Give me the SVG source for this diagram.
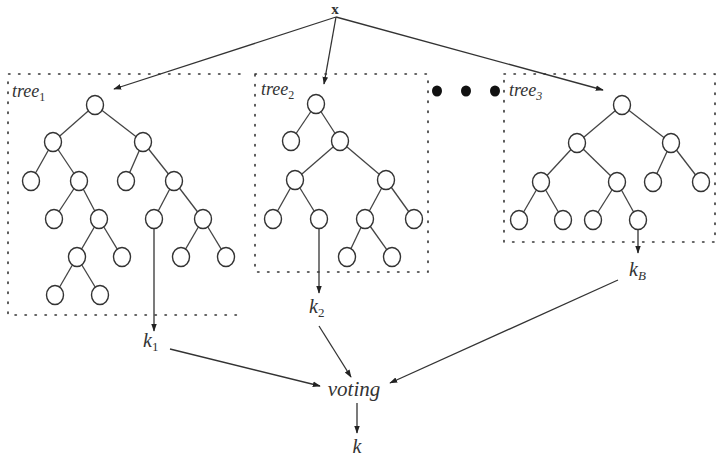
<svg xmlns="http://www.w3.org/2000/svg" width="721" height="459" viewBox="0 0 721 459">
  <style>
    .frame { fill: none; stroke: #333; stroke-width: 1.6; stroke-dasharray: 1.4 8.6; stroke-linecap: round; }
    .edge { stroke: #444; stroke-width: 1.3; fill: none; }
    .node ellipse { fill: #fff; stroke: #333; stroke-width: 1.4; rx: 8.5px; ry: 9.5px; }
    .conn { stroke: #333; stroke-width: 1.3; fill: none; marker-end: url(#arrow); }
    .lbl { font-family: "Liberation Serif", "DejaVu Serif", serif; font-style: italic; fill: #333; }
    .dot { fill: #111; }
  </style>
  <defs>
    <marker id="arrow" viewBox="0 0 10 10" refX="9" refY="5" markerWidth="8" markerHeight="8" markerUnits="userSpaceOnUse" orient="auto">
      <path d="M0,1.5 L10,5 L0,8.5 Z" fill="#222"/>
    </marker>
  </defs>
  <rect width="721" height="459" fill="#fff"/>

  <!-- input sample -->
  <g id="input">
    <text x="335" y="14" text-anchor="middle" font-family="Liberation Serif, serif" font-weight="bold" font-size="15" fill="#333">x</text>
  </g>

  <!-- tree 1 -->
  <g id="tree1">
    <path class="frame" d="M240,74 H8 V315 H240"/>
    <text class="lbl" x="12" y="97" font-size="18">tree<tspan font-size="12" dy="4" font-style="normal">1</tspan></text>
    <g class="edge">
      <line x1="95" y1="105" x2="53" y2="142"/><line x1="95" y1="105" x2="143" y2="142"/>
      <line x1="53" y1="142" x2="31" y2="181"/><line x1="53" y1="142" x2="79" y2="181"/>
      <line x1="143" y1="142" x2="126" y2="181"/><line x1="143" y1="142" x2="174" y2="181"/>
      <line x1="79" y1="181" x2="54" y2="219"/><line x1="79" y1="181" x2="99" y2="219"/>
      <line x1="174" y1="181" x2="154" y2="219"/><line x1="174" y1="181" x2="203" y2="219"/>
      <line x1="99" y1="219" x2="77" y2="257"/><line x1="99" y1="219" x2="122" y2="257"/>
      <line x1="203" y1="219" x2="181" y2="257"/><line x1="203" y1="219" x2="226" y2="257"/>
      <line x1="77" y1="257" x2="55" y2="295"/><line x1="77" y1="257" x2="100" y2="295"/>
    </g>
    <g class="node">
      <ellipse cx="95" cy="105"/>
      <ellipse cx="53" cy="142"/><ellipse cx="143" cy="142"/>
      <ellipse cx="31" cy="181"/><ellipse cx="79" cy="181"/>
      <ellipse cx="126" cy="181"/><ellipse cx="174" cy="181"/>
      <ellipse cx="54" cy="219"/><ellipse cx="99" cy="219"/>
      <ellipse cx="154" cy="219"/><ellipse cx="203" cy="219"/>
      <ellipse cx="77" cy="257"/><ellipse cx="122" cy="257"/>
      <ellipse cx="181" cy="257"/><ellipse cx="226" cy="257"/>
      <ellipse cx="55" cy="295"/><ellipse cx="100" cy="295"/>
    </g>
  </g>

  <!-- tree 2 -->
  <g id="tree2">
    <rect class="frame" x="255" y="74" width="173" height="198"/>
    <text class="lbl" x="261" y="95" font-size="18">tree<tspan font-size="12" dy="4" font-style="normal">2</tspan></text>
    <g class="edge">
      <line x1="316" y1="104" x2="291" y2="141"/><line x1="316" y1="104" x2="340" y2="141"/>
      <line x1="340" y1="141" x2="295" y2="180"/><line x1="340" y1="141" x2="386" y2="180"/>
      <line x1="295" y1="180" x2="273" y2="219"/><line x1="295" y1="180" x2="319" y2="219"/>
      <line x1="386" y1="180" x2="365" y2="219"/><line x1="386" y1="180" x2="414" y2="219"/>
      <line x1="365" y1="219" x2="347" y2="257"/><line x1="365" y1="219" x2="392" y2="257"/>
    </g>
    <g class="node">
      <ellipse cx="316" cy="104"/>
      <ellipse cx="291" cy="141"/><ellipse cx="340" cy="141"/>
      <ellipse cx="295" cy="180"/><ellipse cx="386" cy="180"/>
      <ellipse cx="273" cy="219"/><ellipse cx="319" cy="219"/>
      <ellipse cx="365" cy="219"/><ellipse cx="414" cy="219"/>
      <ellipse cx="347" cy="257"/><ellipse cx="392" cy="257"/>
    </g>
  </g>

  <!-- ellipsis between trees -->
  <g id="ellipsis">
    <ellipse class="dot" cx="437" cy="91" rx="5" ry="5.5"/>
    <ellipse class="dot" cx="466" cy="91" rx="5" ry="5.5"/>
    <ellipse class="dot" cx="495" cy="91" rx="5" ry="5.5"/>
  </g>

  <!-- tree B -->
  <g id="tree3">
    <rect class="frame" x="504" y="74" width="211" height="168"/>
    <text class="lbl" x="509" y="96" font-size="18">tree<tspan font-size="12" dy="4">3</tspan></text>
    <g class="edge">
      <line x1="622" y1="105" x2="577" y2="143"/><line x1="622" y1="105" x2="671" y2="143"/>
      <line x1="577" y1="143" x2="541" y2="182"/><line x1="577" y1="143" x2="617" y2="182"/>
      <line x1="671" y1="143" x2="653" y2="182"/><line x1="671" y1="143" x2="701" y2="182"/>
      <line x1="541" y1="182" x2="519" y2="220"/><line x1="541" y1="182" x2="563" y2="220"/>
      <line x1="617" y1="182" x2="593" y2="220"/><line x1="617" y1="182" x2="638" y2="220"/>
    </g>
    <g class="node">
      <ellipse cx="622" cy="105"/>
      <ellipse cx="577" cy="143"/><ellipse cx="671" cy="143"/>
      <ellipse cx="541" cy="182"/><ellipse cx="617" cy="182"/>
      <ellipse cx="653" cy="182"/><ellipse cx="701" cy="182"/>
      <ellipse cx="519" cy="220"/><ellipse cx="563" cy="220"/>
      <ellipse cx="593" cy="220"/><ellipse cx="638" cy="220"/>
    </g>
  </g>

  <!-- per-tree predictions -->
  <g id="k1"><text class="lbl" x="143" y="347" font-size="20">k<tspan font-size="13" dy="4" font-style="normal">1</tspan></text></g>
  <g id="k2"><text class="lbl" x="309" y="313" font-size="20">k<tspan font-size="13" dy="4" font-style="normal">2</tspan></text></g>
  <g id="kB"><text class="lbl" x="629" y="276" font-size="20">k<tspan font-size="13" dy="4">B</tspan></text></g>

  <!-- aggregation -->
  <g id="voting"><text class="lbl" x="354" y="396" font-size="21" text-anchor="middle">voting</text></g>
  <g id="k"><text class="lbl" x="357" y="453" font-size="20" text-anchor="middle">k</text></g>

  <!-- connectors -->
  <g id="connectors">
    <line class="conn" x1="336" y1="17" x2="114" y2="89"/>
    <line class="conn" x1="336" y1="17" x2="324" y2="84"/>
    <line class="conn" x1="336" y1="17" x2="603" y2="90"/>
    <line class="conn" x1="154" y1="229" x2="154" y2="331"/>
    <line class="conn" x1="319" y1="229" x2="319" y2="293"/>
    <line class="conn" x1="638" y1="230" x2="638" y2="253"/>
    <line class="conn" x1="170" y1="349" x2="320" y2="386"/>
    <line class="conn" x1="319" y1="326" x2="351" y2="377"/>
    <line class="conn" x1="618" y1="280" x2="390" y2="383"/>
    <line class="conn" x1="357" y1="403" x2="357" y2="433"/>
  </g>
</svg>
